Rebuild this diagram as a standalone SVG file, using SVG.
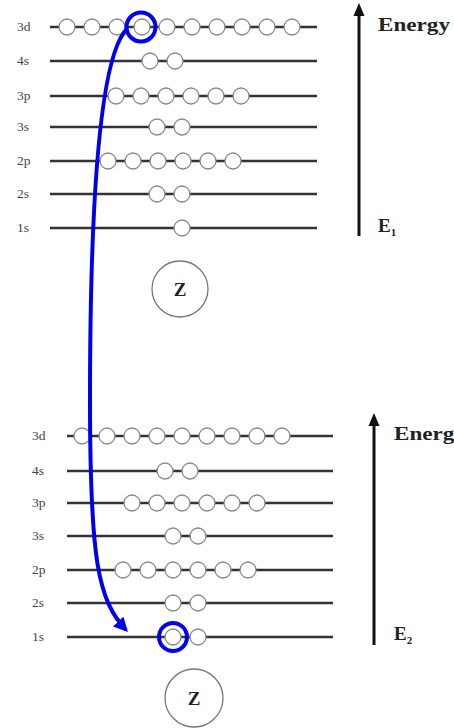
<svg xmlns="http://www.w3.org/2000/svg" width="454" height="728" viewBox="0 0 454 728">
<defs>
<style>
.lv{stroke:#333;stroke-width:2.6;fill:none}
.e{fill:#fff;stroke:#888;stroke-width:1.3}
.lb{font-family:"Liberation Serif",serif;font-size:13.5px;fill:#444}
.en{font-family:"Liberation Serif",serif;font-weight:bold;font-size:19px;fill:#222}
.ax{stroke:#111;stroke-width:3;fill:none}
.ah{fill:#111}
.nuc{fill:#fff;stroke:#777;stroke-width:1.3}
.z{font-family:"Liberation Serif",serif;font-weight:bold;font-size:19px;fill:#222;text-anchor:middle}
.bl{fill:none;stroke:#0000ee;stroke-width:4}
</style>
<marker id="ah" viewBox="0 0 10 10" refX="8" refY="5" markerWidth="3.6" markerHeight="3.6" orient="auto" markerUnits="strokeWidth">
<path d="M0,0 L10,5 L0,10 z" fill="#0000ee"/>
</marker>
</defs>

<g id="top-diagram">
<g id="top-3d"><text class="lb" x="17" y="31">3d</text><line class="lv" x1="50" y1="27" x2="317" y2="27"/>
<circle class="e" cx="67" cy="27" r="8"/><circle class="e" cx="92" cy="27" r="8"/><circle class="e" cx="117" cy="27" r="8"/><circle class="e" cx="142" cy="27" r="8"/><circle class="e" cx="167" cy="27" r="8"/><circle class="e" cx="192" cy="27" r="8"/><circle class="e" cx="217" cy="27" r="8"/><circle class="e" cx="242" cy="27" r="8"/><circle class="e" cx="267" cy="27" r="8"/><circle class="e" cx="292" cy="27" r="8"/></g>
<g id="top-4s"><text class="lb" x="17" y="65">4s</text><line class="lv" x1="50" y1="61" x2="317" y2="61"/>
<circle class="e" cx="150" cy="61" r="8"/><circle class="e" cx="175" cy="61" r="8"/></g>
<g id="top-3p"><text class="lb" x="17" y="100">3p</text><line class="lv" x1="50" y1="96" x2="317" y2="96"/>
<circle class="e" cx="116" cy="96" r="8"/><circle class="e" cx="141" cy="96" r="8"/><circle class="e" cx="166" cy="96" r="8"/><circle class="e" cx="191" cy="96" r="8"/><circle class="e" cx="216" cy="96" r="8"/><circle class="e" cx="241" cy="96" r="8"/></g>
<g id="top-3s"><text class="lb" x="17" y="131">3s</text><line class="lv" x1="50" y1="127" x2="317" y2="127"/>
<circle class="e" cx="157" cy="127" r="8"/><circle class="e" cx="182" cy="127" r="8"/></g>
<g id="top-2p"><text class="lb" x="17" y="165">2p</text><line class="lv" x1="50" y1="161" x2="317" y2="161"/>
<circle class="e" cx="108" cy="161" r="8"/><circle class="e" cx="133" cy="161" r="8"/><circle class="e" cx="158" cy="161" r="8"/><circle class="e" cx="183" cy="161" r="8"/><circle class="e" cx="208" cy="161" r="8"/><circle class="e" cx="233" cy="161" r="8"/></g>
<g id="top-2s"><text class="lb" x="17" y="198">2s</text><line class="lv" x1="50" y1="194" x2="317" y2="194"/>
<circle class="e" cx="157" cy="194" r="8"/><circle class="e" cx="182" cy="194" r="8"/></g>
<g id="top-1s"><text class="lb" x="17" y="232">1s</text><line class="lv" x1="50" y1="228" x2="317" y2="228"/>
<circle class="e" cx="182" cy="228" r="8"/></g>
<g id="top-axis"><line class="ax" x1="359" y1="236" x2="359" y2="14"/><polygon class="ah" points="359,3 364.5,16 353.5,16"/>
<text class="en" x="378" y="31" textLength="72" lengthAdjust="spacingAndGlyphs">Energy</text>
<text class="en" x="378" y="232" font-size="17">E<tspan font-size="11" dy="4">1</tspan></text></g>
<g id="top-nucleus"><circle class="nuc" cx="180" cy="289" r="28"/><text class="z" x="180" y="296">Z</text></g>
</g>

<g id="bottom-diagram">
<g id="bot-3d"><text class="lb" x="32" y="440">3d</text><line class="lv" x1="67" y1="436" x2="333" y2="436"/>
<circle class="e" cx="82" cy="436" r="8"/><circle class="e" cx="107" cy="436" r="8"/><circle class="e" cx="132" cy="436" r="8"/><circle class="e" cx="157" cy="436" r="8"/><circle class="e" cx="182" cy="436" r="8"/><circle class="e" cx="207" cy="436" r="8"/><circle class="e" cx="232" cy="436" r="8"/><circle class="e" cx="257" cy="436" r="8"/><circle class="e" cx="282" cy="436" r="8"/></g>
<g id="bot-4s"><text class="lb" x="32" y="475">4s</text><line class="lv" x1="67" y1="471" x2="333" y2="471"/>
<circle class="e" cx="165" cy="471" r="8"/><circle class="e" cx="190" cy="471" r="8"/></g>
<g id="bot-3p"><text class="lb" x="32" y="507">3p</text><line class="lv" x1="67" y1="503" x2="333" y2="503"/>
<circle class="e" cx="132" cy="503" r="8"/><circle class="e" cx="157" cy="503" r="8"/><circle class="e" cx="182" cy="503" r="8"/><circle class="e" cx="207" cy="503" r="8"/><circle class="e" cx="232" cy="503" r="8"/><circle class="e" cx="257" cy="503" r="8"/></g>
<g id="bot-3s"><text class="lb" x="32" y="540">3s</text><line class="lv" x1="67" y1="536" x2="333" y2="536"/>
<circle class="e" cx="173" cy="536" r="8"/><circle class="e" cx="198" cy="536" r="8"/></g>
<g id="bot-2p"><text class="lb" x="32" y="574">2p</text><line class="lv" x1="67" y1="570" x2="333" y2="570"/>
<circle class="e" cx="123" cy="570" r="8"/><circle class="e" cx="148" cy="570" r="8"/><circle class="e" cx="173" cy="570" r="8"/><circle class="e" cx="198" cy="570" r="8"/><circle class="e" cx="223" cy="570" r="8"/><circle class="e" cx="248" cy="570" r="8"/></g>
<g id="bot-2s"><text class="lb" x="32" y="607">2s</text><line class="lv" x1="67" y1="603" x2="333" y2="603"/>
<circle class="e" cx="173" cy="603" r="8"/><circle class="e" cx="198" cy="603" r="8"/></g>
<g id="bot-1s"><text class="lb" x="32" y="641">1s</text><line class="lv" x1="67" y1="637" x2="333" y2="637"/>
<circle class="e" cx="173" cy="637" r="8"/><circle class="e" cx="198" cy="637" r="8"/></g>
<g id="bot-axis"><line class="ax" x1="374" y1="645" x2="374" y2="424"/><polygon class="ah" points="374,413 379.5,426 368.5,426"/>
<text class="en" x="394" y="440" textLength="72" lengthAdjust="spacingAndGlyphs">Energy</text>
<text class="en" x="394" y="640" font-size="17">E<tspan font-size="11" dy="4">2</tspan></text></g>
<g id="bot-nucleus"><circle class="nuc" cx="194" cy="698" r="29"/><text class="z" x="194" y="705">Z</text></g>
</g>

<g id="connectors">
<circle class="bl" cx="141" cy="27" r="14.5"/>
<circle class="bl" cx="173" cy="637" r="14"/>
<path class="bl" d="M127,29 C100,55 90,200 90,400 C90,560 98,600 126,630" marker-end="url(#ah)"/>
</g>
</svg>
